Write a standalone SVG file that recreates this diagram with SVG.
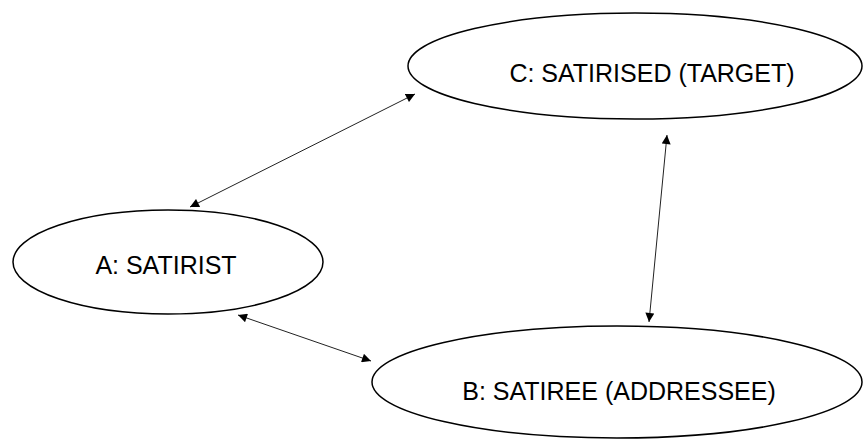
<svg xmlns="http://www.w3.org/2000/svg" width="864" height="439" viewBox="0 0 864 439">
<defs>
<marker id="ah" viewBox="0 0 10 10" refX="10" refY="5" markerWidth="10" markerHeight="9" markerUnits="userSpaceOnUse" orient="auto-start-reverse">
<path d="M0,0 L10,5 L0,10 z" fill="#000"/>
</marker>
<style>
.node ellipse{fill:#fff;stroke:#000;stroke-width:1.5}
.node text{font-family:"Liberation Sans",Arial,sans-serif;font-size:25px;fill:#000;text-anchor:middle}
.conn line{stroke:#222;stroke-width:1;marker-start:url(#ah);marker-end:url(#ah)}
</style>
</defs>
<rect width="864" height="439" fill="#fff"/>
<g id="nodeC" class="node">
<ellipse cx="635" cy="66" rx="227" ry="53"/>
<text x="652" y="82">C: SATIRISED (TARGET)</text>
</g>
<g id="nodeA" class="node">
<ellipse cx="168" cy="262" rx="155" ry="52"/>
<text x="166" y="274">A: SATIRIST</text>
</g>
<g id="nodeB" class="node">
<ellipse cx="617" cy="382" rx="245" ry="56"/>
<text x="619" y="400">B: SATIREE (ADDRESSEE)</text>
</g>
<g id="connectors" class="conn">
<line x1="190" y1="207" x2="415" y2="94"/>
<line x1="667" y1="135" x2="649" y2="322"/>
<line x1="238" y1="315" x2="371" y2="361"/>
</g>
</svg>
